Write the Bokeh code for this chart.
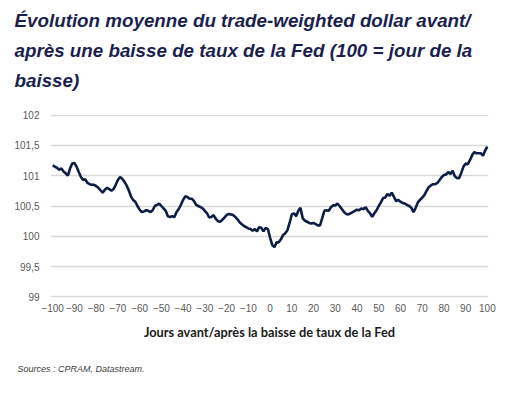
from bokeh.plotting import figure
from bokeh.models import Range1d, FixedTicker, Title, ColumnDataSource
from bokeh.embed import file_html
from bokeh.resources import INLINE

# ---- data ----
days = list(range(-100, 101))
values = [
    101.17, 101.15, 101.13, 101.10, 101.12, 101.07, 101.04, 101.00, 101.12, 101.20,  # -100..-91
    101.21, 101.15, 101.06, 100.98, 100.93, 100.94, 100.88, 100.86, 100.85, 100.85,  # -90..-81
    100.83, 100.80, 100.76, 100.72, 100.77, 100.80, 100.78, 100.75, 100.78, 100.85,  # -80..-71
    100.93, 100.98, 100.95, 100.90, 100.84, 100.76, 100.66, 100.60, 100.57, 100.50,  # -70..-61
    100.44, 100.40, 100.41, 100.43, 100.42, 100.40, 100.43, 100.50, 100.52, 100.54,  # -60..-51
    100.50, 100.46, 100.42, 100.33, 100.32, 100.33, 100.32, 100.40, 100.45, 100.52,  # -50..-41
    100.60, 100.66, 100.65, 100.62, 100.62, 100.58, 100.52, 100.50, 100.48, 100.46,  # -40..-31
    100.42, 100.38, 100.31, 100.32, 100.35, 100.29, 100.25, 100.24, 100.27, 100.31,  # -30..-21
    100.35, 100.37, 100.36, 100.35, 100.32, 100.28, 100.23, 100.20, 100.17, 100.15,  # -20..-11
    100.13, 100.12, 100.09, 100.12, 100.08, 100.15, 100.14, 100.08, 100.14, 100.12,  # -10..-1
    99.98,                                                                            # 0
    99.86, 99.82, 99.90, 99.90, 99.95, 100.02, 100.05, 100.10, 100.22, 100.36,       # 1..10
    100.38, 100.33, 100.42, 100.47, 100.30, 100.26, 100.24, 100.22, 100.21, 100.22,  # 11..20
    100.20, 100.18, 100.18, 100.30, 100.42, 100.43, 100.42, 100.48, 100.51, 100.51,  # 21..30
    100.54, 100.50, 100.45, 100.40, 100.37, 100.36, 100.38, 100.40, 100.42, 100.44,  # 31..40
    100.43, 100.46, 100.45, 100.48, 100.42, 100.38, 100.32, 100.38, 100.43, 100.50,  # 41..50
    100.56, 100.63, 100.64, 100.70, 100.67, 100.72, 100.65, 100.58, 100.60, 100.57,  # 51..60
    100.55, 100.54, 100.52, 100.50, 100.47, 100.40, 100.47, 100.56, 100.60, 100.64,  # 61..70
    100.68, 100.75, 100.81, 100.84, 100.86, 100.86, 100.88, 100.93, 100.98, 101.01,  # 71..80
    101.02, 101.06, 101.03, 101.08, 100.99, 100.96, 100.96, 101.05, 101.15, 101.20,  # 81..90
    101.19, 101.26, 101.34, 101.39, 101.37, 101.37, 101.37, 101.33, 101.42, 101.48,  # 91..100
]
x_ticks = list(range(-100, 101, 10))
y_ticks = [99, 99.5, 100, 100.5, 101, 101.5, 102]
y_tick_labels = ["99", "99,5", "100", "100,5", "101", "101,5", "102"]
title_lines = [
    "Évolution moyenne du trade-weighted dollar avant/",
    "après une baisse de taux de la Fed (100 = jour de la",
    "baisse)",
]
x_label = "Jours avant/après la baisse de taux de la Fed"
source_note = "Sources : CPRAM, Datastream."

# ---- figure ----
p = figure(
    width=507, height=392,
    output_backend="svg", toolbar_location=None, title=None,
    x_range=Range1d(-101, 100.5), y_range=Range1d(98.99, 102.01),
    min_border_left=50, min_border_right=19, min_border_top=0, min_border_bottom=0,
)
p.outline_line_color = None
p.background_fill_color = "white"
p.border_fill_color = "white"

src = ColumnDataSource(dict(day=days, value=values))
p.line("day", "value", source=src, line_color="#0e1d45", line_width=2.6)

# axes
p.xaxis.ticker = FixedTicker(ticks=x_ticks)
p.yaxis.ticker = FixedTicker(ticks=y_ticks)
p.yaxis.major_label_overrides = {t: l for t, l in zip(y_ticks, y_tick_labels)}
for ax in (p.xaxis[0], p.yaxis[0]):
    ax.axis_line_color = None
    ax.major_tick_line_color = None
    ax.minor_tick_line_color = None
    ax.major_label_text_font = "Liberation Sans"
    ax.major_label_text_font_size = "10px"
    ax.major_label_text_color = "#595959"
p.yaxis.major_label_standoff = 5
p.xaxis.major_label_standoff = 0

p.xaxis.axis_label = x_label
p.xaxis.axis_label_text_font = "Lato"
p.xaxis.axis_label_text_font_style = "bold"
p.xaxis.axis_label_text_font_size = "12.8px"
p.xaxis.axis_label_text_color = "#1a1a1a"
p.xaxis.axis_label_standoff = 9

# grid
p.xgrid.grid_line_color = None
p.ygrid.grid_line_color = "#d9d9d9"
p.ygrid.grid_line_width = 1.5

# footnote
p.add_layout(Title(text=source_note, text_font="Liberation Sans", text_font_style="italic",
                   text_font_size="9px", text_color="#404040", align="left",
                   offset=-33, standoff=38), "below")

# gap between title block and plot area
p.add_layout(Title(text=" ", text_font_size="1px", standoff=16.5), "above")
# title lines (later added = further from plot)
for line in reversed(title_lines):
    p.add_layout(Title(text=line, text_font="Liberation Sans", text_font_style="bold italic",
                       text_font_size="18.8px", text_color="#1b1f50", align="left",
                       offset=-36, standoff=6.5), "above")
# small top margin above the first title line
p.add_layout(Title(text=" ", text_font_size="1px", standoff=0.5), "above")

open("out.html", "w").write(file_html(p, INLINE))
